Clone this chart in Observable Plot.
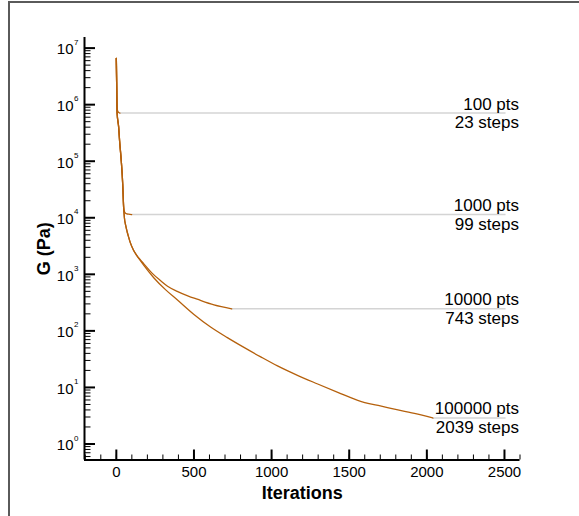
<!DOCTYPE html>
<html><head><meta charset="utf-8">
<script src="https://cdn.jsdelivr.net/npm/d3@7"></script>
<script src="https://cdn.jsdelivr.net/npm/@observablehq/plot@0.6"></script>
<style>
html,body{margin:0;padding:0;background:#fff;}
#wrap{position:relative;width:579px;height:516px;overflow:hidden;}
#frame{position:absolute;left:8px;top:1px;right:-10px;bottom:-10px;border-top:2px solid #5a5a5a;border-left:2px solid #5a5a5a;}
#chart{position:absolute;left:0;top:0;}
</style></head><body>
<div id="wrap"><div id="frame"></div><div id="chart"></div></div>
<script>
// ---- data ----
const sharedIter = [0, 2, 5, 15, 21, 32, 41, 47, 52, 60, 70, 80, 90, 110, 130];
const sharedG    = [6.6e6, 2.5e6, 7.1e5, 4.0e5, 2.3e5, 1.0e5, 4.0e4, 1.55e4, 1.0e4, 7.4e3, 5.6e3, 4.47e3, 3.63e3, 2.69e3, 2.19e3];

const iter100 = [0, 2, 4, 8, 14, 23];
const g100    = [6.6e6, 2.5e6, 1.05e6, 7.8e5, 7.3e5, 7.1e5];

const iter1000 = [...sharedIter.slice(0, 8), 50, 57, 68, 80, 99];
const g1000    = [...sharedG.slice(0, 8), 1.35e4, 1.22e4, 1.17e4, 1.155e4, 1.14e4];

const iter10000 = [...sharedIter, 155, 176, 230, 284, 330, 392, 460, 521, 629, 743];
const g10000    = [...sharedG, 1.8e3, 1.55e3, 1.05e3, 776, 617, 501, 417, 363, 288, 245];

const iter100000 = [...sharedIter, 155, 176, 241, 320, 392, 500, 607, 715, 822, 930, 1038, 1170, 1297, 1430, 1555, 1600, 1700, 1791, 1920, 2039];
const g100000    = [...sharedG, 1.74e3, 1.45e3, 871, 525, 355, 195, 117, 76, 51, 34.7, 24, 16.2, 11.5, 8.1, 5.9, 5.4, 4.7, 4.15, 3.47, 2.88];

const labelPts   = ["100 pts", "1000 pts", "10000 pts", "100000 pts"];
const labelSteps = [23, 99, 743, 2039];
const labelG     = [7.1e5, 1.14e4, 245, 2.88];
const guideEnd   = 2510;

const xDomain = [-205, 2600];
const yDomain = [0.521, 1.54e7];
const xMajor = [0, 500, 1000, 1500, 2000, 2500];
const xMinor = d3.range(-200, 2601, 100);
const yExp = [0, 1, 2, 3, 4, 5, 6, 7];

// ---- derived tables ----
const seriesList = [
  {name: labelPts[0], iter: iter100, g: g100},
  {name: labelPts[1], iter: iter1000, g: g1000},
  {name: labelPts[2], iter: iter10000, g: g10000},
  {name: labelPts[3], iter: iter100000, g: g100000}
];
const rows = seriesList.flatMap(s => s.iter.map((it, i) => ({name: s.name, iter: it, G: s.g[i]})));
const labels = labelPts.map((p, i) => ({pts: p, steps: labelSteps[i], stepsText: labelSteps[i] + " steps", G: labelG[i]}));
const yMajor = yExp.map(e => Math.pow(10, e));
const yMinor = [];
for (let e = -1; e <= 7; e++) for (let k = 2; k <= 9; k++) {
  const v = k * Math.pow(10, e);
  if (v >= yDomain[0] && v <= yDomain[1]) yMinor.push(v);
}

const W = 579, H = 516, mL = 84, mR = 59.5, mT = 37, mB = 56.5;
const fw = W - mL - mR, fh = H - mT - mB;
const col = "#b5600c";
const font = "'Liberation Sans', Arial, Helvetica, sans-serif";

const chart = Plot.plot({
  width: W, height: H,
  marginLeft: mL, marginRight: mR, marginTop: mT, marginBottom: mB,
  style: {fontFamily: font, background: "transparent", color: "black", overflow: "visible"},
  x: {domain: xDomain, axis: null},
  y: {type: "log", domain: yDomain, axis: null},
  marks: [
    Plot.ruleY(labels, {y: "G", x1: "steps", x2: () => guideEnd, stroke: "#d4d4d4", strokeWidth: 1.5}),
    Plot.line(rows, {x: "iter", y: "G", z: "name", stroke: col, strokeWidth: 1.3, curve: "monotone-x"}),
    // curve labels: two lines around the guide
    Plot.text(labels, {y: "G", text: "pts", frameAnchor: "right", textAnchor: "end", lineAnchor: "middle", dx: -1, dy: -9, fontSize: 17, fill: "black"}),
    Plot.text(labels, {y: "G", text: "stepsText", frameAnchor: "right", textAnchor: "end", lineAnchor: "middle", dx: -1, dy: 9.8, fontSize: 17, fill: "black"}),
    // axes lines
    Plot.ruleY([yDomain[0]], {stroke: "black", strokeWidth: 2}),
    Plot.ruleX([xDomain[0]], {stroke: "black", strokeWidth: 2}),
    // x ticks (inward)
    Plot.tickX(xMinor.filter(v => v > xDomain[0]), {x: d => d, insetTop: fh - 5, stroke: "black", strokeWidth: 1}),
    Plot.tickX(xMajor, {x: d => d, insetTop: fh - 10, stroke: "black", strokeWidth: 2}),
    Plot.text(xMajor, {x: d => d, text: d => String(d), frameAnchor: "bottom", textAnchor: "middle", lineAnchor: "top", dy: 6.5, fontSize: 15, fill: "black"}),
    // y ticks (inward)
    Plot.tickY(yMinor, {y: d => d, insetRight: fw - 6.5, stroke: "black", strokeWidth: 1}),
    Plot.tickY(yMajor, {y: d => d, insetRight: fw - 11, stroke: "black", strokeWidth: 2}),
    Plot.text(yMajor, {y: d => d, text: () => "10", frameAnchor: "left", textAnchor: "end", lineAnchor: "middle", dx: -11, dy: 1.5, fontSize: 15, fill: "black"}),
    Plot.text(yExp, {y: d => Math.pow(10, d), text: d => String(d), frameAnchor: "left", textAnchor: "start", lineAnchor: "middle", dx: -10.5, dy: -6, fontSize: 8, fill: "black"}),
    // titles
    Plot.text(["G (Pa)"], {text: d => d, frameAnchor: "left", textAnchor: "middle", lineAnchor: "middle", rotate: -90, dx: -40, fontSize: 18, fontWeight: "bold", fill: "black"}),
    Plot.text(["Iterations"], {text: d => d, frameAnchor: "bottom", textAnchor: "middle", lineAnchor: "middle", dy: 33, fontSize: 18, fontWeight: "bold", fill: "black"})
  ]
});
document.getElementById("chart").appendChild(chart);
</script>
</body></html>
